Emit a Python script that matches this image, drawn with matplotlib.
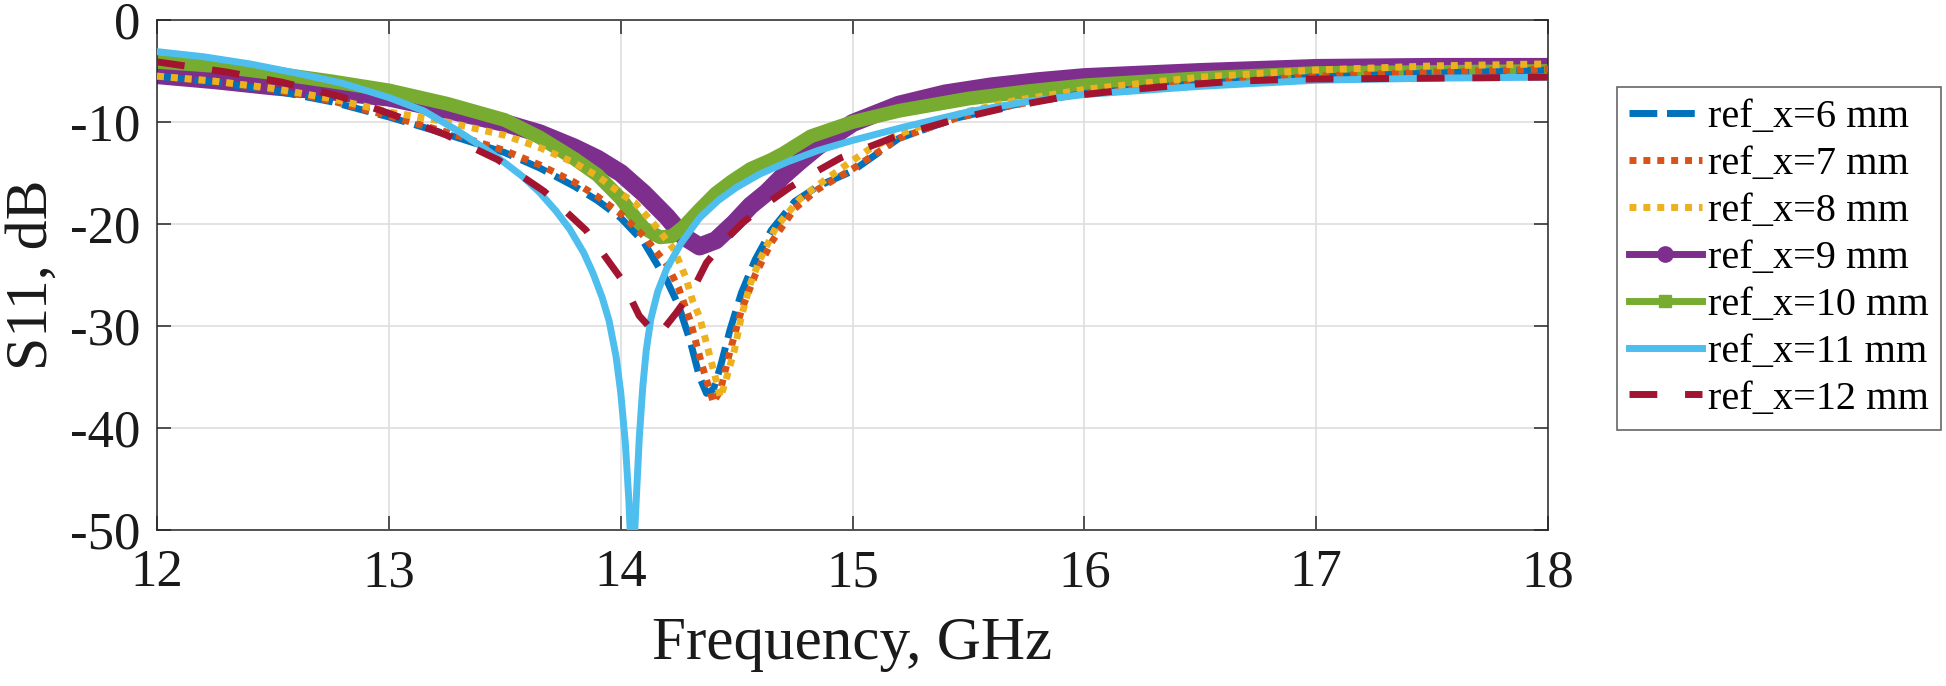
import matplotlib
matplotlib.use("Agg")
import matplotlib.pyplot as plt
from matplotlib.lines import Line2D

plt.rcParams['font.family'] = ['Liberation Serif', 'DejaVu Serif']
plt.rcParams['axes.unicode_minus'] = False

# ---- data ----
f6 = [12, 12.25, 12.5, 12.75, 13, 13.25, 13.5, 13.65, 13.8, 13.9, 14.0, 14.1, 14.2, 14.25, 14.3,
      14.34, 14.37, 14.4, 14.43, 14.47, 14.52, 14.58, 14.65, 14.75, 14.85, 15.0, 15.2, 15.45, 15.7,
      16, 16.5, 17, 17.5, 18]
s6 = [-5.5, -6.1, -6.9, -8.0, -9.5, -11.2, -13.0, -14.5, -16.3, -17.7, -19.4, -21.8, -25.6, -28.0,
      -31.5, -35.0, -36.6, -36.2, -34.0, -30.5, -26.8, -23.5, -20.6, -17.8, -16.3, -14.8, -11.6,
      -9.6, -8.3, -7.2, -6.2, -5.6, -5.2, -4.9]

f7 = [12, 12.25, 12.5, 12.75, 13, 13.25, 13.5, 13.65, 13.8, 13.9, 14.0, 14.1, 14.2, 14.25, 14.3,
      14.35, 14.4, 14.43, 14.47, 14.52, 14.58, 14.65, 14.75, 14.85, 15.0, 15.2, 15.45, 15.7, 16,
      16.5, 17, 17.5, 18]
s7 = [-5.5, -6.0, -6.8, -7.9, -9.4, -11.0, -12.8, -14.2, -15.9, -17.3, -19.0, -21.2, -24.0, -26.3,
      -29.5, -33.8, -37.5, -36.3, -32.6, -28.5, -25.0, -21.8, -18.5, -16.6, -14.6, -11.6, -9.6,
      -8.3, -7.2, -6.2, -5.5, -5.1, -4.8]

f8 = [12, 12.25, 12.5, 12.75, 13, 13.25, 13.5, 13.65, 13.8, 13.9, 14.0, 14.06, 14.14, 14.23, 14.28,
      14.31, 14.34, 14.37, 14.40, 14.43, 14.45, 14.49, 14.52, 14.56, 14.60, 14.67, 14.77, 14.85,
      14.96, 15.07, 15.18, 15.27, 15.38, 15.49, 15.7, 16, 16.5, 17, 17.5, 18]
s8 = [-5.5, -6.0, -6.7, -7.7, -9.0, -10.0, -11.3, -12.5, -14.0, -15.3, -17.0, -17.9, -19.9, -22.5,
      -25.2, -27.5, -29.1, -31.7, -34.3, -37.0, -35.6, -32.4, -29.1, -25.8, -23.5, -20.3, -17.6,
      -16.2, -14.4, -12.7, -11.4, -10.6, -9.8, -9.0, -7.9, -6.8, -5.6, -4.9, -4.5, -4.3]

f9 = [12, 12.25, 12.5, 12.75, 13, 13.25, 13.5, 13.65, 13.8, 13.9, 14.0, 14.1, 14.2, 14.27, 14.34,
      14.41, 14.49, 14.56, 14.63, 14.7, 14.77, 14.85, 15.0, 15.2, 15.4, 15.6, 15.8, 16, 16.5, 17,
      17.5, 18]
s9 = [-5.4, -5.9, -6.5, -7.0, -7.6, -8.8, -10.1, -11.1, -12.5, -13.6, -15.0, -17.0, -19.3, -21.2,
      -22.2, -21.6, -19.9, -18.2, -16.9, -15.3, -13.9, -12.4, -10.1, -8.3, -7.2, -6.5, -6.0, -5.6,
      -5.1, -4.7, -4.6, -4.6]

f10 = [12, 12.25, 12.5, 12.75, 13, 13.25, 13.5, 13.65, 13.8, 13.9, 14.0, 14.05, 14.1, 14.17, 14.22,
       14.27, 14.34, 14.41, 14.48, 14.56, 14.65, 14.7, 14.82, 15.0, 15.2, 15.5, 15.75, 16, 16.5, 17,
       17.5, 18]
s10 = [-4.1, -4.5, -5.2, -6.0, -6.9, -8.2, -9.8, -11.5, -13.6, -15.2, -17.5, -19.0, -20.4, -21.3,
       -21.2, -20.3, -18.6, -17.0, -15.8, -14.6, -13.7, -13.1, -11.4, -10.0, -8.9, -7.7, -7.0,
       -6.4, -5.7, -5.2, -5.1, -5.0]

f11 = [12, 12.2, 12.4, 12.6, 12.8, 13.0, 13.15, 13.3, 13.42, 13.5, 13.58, 13.65, 13.72, 13.78,
       13.84, 13.88, 13.92, 13.95, 13.98, 14.0, 14.02, 14.035, 14.05, 14.065, 14.08, 14.095, 14.11,
       14.13, 14.16, 14.2, 14.26, 14.34, 14.42, 14.5, 14.6, 14.72, 14.85, 15.0, 15.22, 15.5, 15.75,
       16, 16.5, 17, 17.5, 18]
s11 = [-3.1, -3.6, -4.3, -5.2, -6.2, -7.6, -8.9, -10.9, -12.7, -14.0, -15.4, -16.9, -18.7, -20.5,
       -22.8, -24.8, -27.2, -29.5, -33.0, -36.5, -41.5, -47.0, -55.0, -48.0, -41.0, -36.0, -32.4,
       -29.3, -26.6, -24.3, -21.9, -19.4, -17.7, -16.4, -15.1, -13.9, -12.8, -11.8, -10.5, -9.0,
       -8.0, -7.3, -6.5, -5.9, -5.7, -5.6]

f12 = [12, 12.3, 12.54, 12.79, 13.02, 13.25, 13.47, 13.67, 13.85, 14.0, 14.08, 14.16, 14.24, 14.31,
       14.37, 14.45, 14.53, 14.63, 14.73, 14.84, 14.95, 15.2, 15.45, 15.68, 15.92, 16.16, 16.41,
       16.65, 16.9, 17.5, 18]
s12 = [-4.1, -5.1, -6.1, -7.5, -9.3, -11.3, -13.7, -16.8, -20.6, -25.3, -29.0, -31.0, -28.7, -26.5,
       -23.8, -21.6, -19.8, -18.0, -16.4, -14.9, -13.5, -11.3, -9.7, -8.5, -7.5, -6.9, -6.4, -6.0,
       -5.8, -5.7, -5.6]

labels = ['ref_x=6 mm', 'ref_x=7 mm', 'ref_x=8 mm', 'ref_x=9 mm',
          'ref_x=10 mm', 'ref_x=11 mm', 'ref_x=12 mm']
xticks = [12, 13, 14, 15, 16, 17, 18]
yticks = [0, -10, -20, -30, -40, -50]

# ---- styling ----
C = ['#0072BD', '#D95319', '#EDB120', '#7E2F8E', '#77AC30', '#4DBEEE', '#A2142F']
LS6 = (0, (4, 1.4))
LSDOT = (0, (1, 1))
LS12 = (0, (4, 4))

fig = plt.figure(figsize=(19.46, 6.86), dpi=100)
ax = fig.add_axes([0.0807, 0.2274, 0.7148, 0.7434])

ax.plot(f6, s6, color=C[0], lw=5, linestyle=LS6, zorder=3)
ax.plot(f7, s7, color=C[1], lw=5, linestyle=LSDOT, zorder=3)
ax.plot(f8, s8, color=C[2], lw=5, linestyle=LSDOT, zorder=3)
ax.plot(f9, s9, color=C[3], lw=13, solid_capstyle='round', solid_joinstyle='round', zorder=2)
ax.plot(f10, s10, color=C[4], lw=10, solid_joinstyle='round', zorder=2.5)
ax.plot(f11, s11, color=C[5], lw=5, solid_joinstyle='round', zorder=3)
ax.plot(f12, s12, color=C[6], lw=5, linestyle=LS12, zorder=3)

ax.set_xlim(12, 18)
ax.set_ylim(-50, 0)
ax.set_xticks(xticks)
ax.set_yticks(yticks)
ax.set_xticklabels([str(t) for t in xticks])
ax.set_yticklabels([str(t) for t in yticks])
ax.grid(True, color='#dedede', lw=1.2)
ax.set_axisbelow(True)
ax.tick_params(direction='in', length=10, width=1.1, top=True, right=True,
               labelsize=38, colors='#262626', labelcolor='#1a1a1a')
ax.tick_params(axis='x', pad=14)
ax.tick_params(axis='y', pad=12)
for s in ax.spines.values():
    s.set_color('#262626')
    s.set_linewidth(1.1)

ax.set_xlabel('Frequency, GHz', fontsize=44, color='#1a1a1a')
ax.xaxis.set_label_coords(0.5, -0.17)
ax.set_ylabel('S11, dB', fontsize=43, color='#1a1a1a')
ax.yaxis.set_label_coords(-0.07, 0.5)

handles = [
    Line2D([], [], color=C[0], lw=5, linestyle=LS6),
    Line2D([], [], color=C[1], lw=5, linestyle=LSDOT),
    Line2D([], [], color=C[2], lw=5, linestyle=LSDOT),
    Line2D([], [], color=C[3], lw=5, marker='o', markersize=11),
    Line2D([], [], color=C[4], lw=5, marker='s', markersize=8),
    Line2D([], [], color=C[5], lw=5),
    Line2D([], [], color=C[6], lw=5, linestyle=LS12),
]
leg = fig.legend(handles, labels, loc='upper left', bbox_to_anchor=(0.831, 0.873),
                 bbox_transform=fig.transFigure, fontsize=29, frameon=True, fancybox=False,
                 edgecolor='#404040', handlelength=1.8, handletextpad=0.15,
                 labelspacing=0.24, borderpad=0.3, borderaxespad=0)
leg.get_frame().set_linewidth(1.2)

fig.savefig('out.png', dpi=100)
